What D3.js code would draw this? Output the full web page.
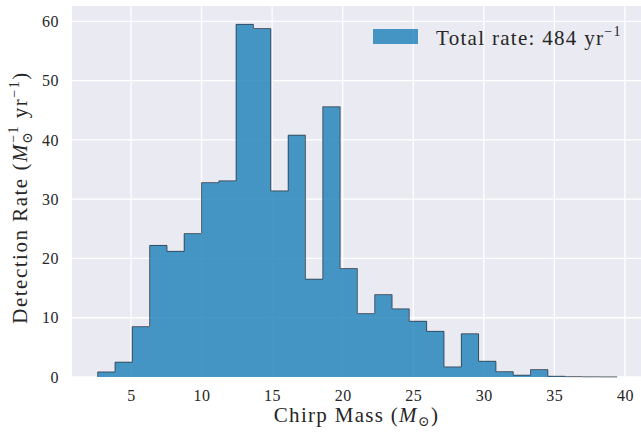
<!DOCTYPE html>
<html>
<head>
<meta charset="utf-8">
<script src="https://cdn.jsdelivr.net/npm/d3@7"></script>
<style>
  body { margin: 0; background: #fff; }
  svg text { font-family: "Liberation Serif", "DejaVu Serif", serif; fill: #262626; }
</style>
</head>
<body>
<svg id="chart" width="641" height="432"></svg>
<script>
// histogram bin edges (chirp mass, M_sun)
const binEdges = [2.64, 3.87, 5.09, 6.32, 7.55, 8.77, 10.00, 11.23, 12.45, 13.68, 14.91,
	16.14, 17.36, 18.59, 19.82, 21.04, 22.27, 23.50, 24.72, 25.95, 27.18,
	28.41, 29.63, 30.86, 32.09, 33.31, 34.54, 35.77, 36.99, 38.22, 39.45];
// detection rate per bin
const rates = [0.85, 2.5, 8.5, 22.2, 21.2, 24.2, 32.8, 33.1, 59.5, 58.8,
	31.4, 40.8, 16.5, 45.6, 18.3, 10.7, 13.9, 11.5, 9.4, 7.7,
	1.7, 7.3, 2.65, 0.9, 0.3, 1.25, 0.12, 0.06, 0.03, 0.02];
const xTicks = [5, 10, 15, 20, 25, 30, 35, 40];
const yTicks = [0, 10, 20, 30, 40, 50, 60];
const legendLabel = "Total rate: 484 yr";

const svg = d3.select("#chart");
const plot = { left: 72, top: 6, right: 641, bottom: 377 };

const x = d3.scaleLinear().domain([0.82, 41.14]).range([plot.left, plot.right]);
const y = d3.scaleLinear().domain([0, 62.6]).range([plot.bottom, plot.top]);

const barColor = "#1a7eb8";

// background
svg.append("rect")
	.attr("x", plot.left).attr("y", plot.top)
	.attr("width", plot.right - plot.left).attr("height", plot.bottom - plot.top)
	.attr("fill", "#eaeaf2");

// grid
let grid = svg.append("g");
grid.selectAll("line.gx").data(xTicks).join("line")
	.attr("x1", d => x(d)).attr("x2", d => x(d))
	.attr("y1", plot.top).attr("y2", plot.bottom)
	.attr("stroke", "#fff").attr("stroke-width", 1.3);
grid.selectAll("line.gy").data(yTicks).join("line")
	.attr("x1", plot.left).attr("x2", plot.right)
	.attr("y1", d => y(d)).attr("y2", d => y(d))
	.attr("stroke", "#fff").attr("stroke-width", 1.3);

// bars
const bins = rates.map((r, i) => ({ x0: binEdges[i], x1: binEdges[i + 1], v: r }));
svg.append("g").selectAll("rect").data(bins).join("rect")
	.attr("x", d => x(d.x0))
	.attr("y", d => y(d.v))
	.attr("width", d => x(d.x1) - x(d.x0))
	.attr("height", d => y(0) - y(d.v))
	.attr("fill", barColor)
	.attr("fill-opacity", 0.8)
	.attr("shape-rendering", "crispEdges");

// step outline
let pts = [[x(binEdges[0]), y(0)]];
bins.forEach(d => {
	pts.push([x(d.x0), y(d.v)]);
	pts.push([x(d.x1), y(d.v)]);
});
svg.append("path")
	.attr("d", d3.line()(pts))
	.attr("fill", "none")
	.attr("stroke", "#2e3b47")
	.attr("stroke-opacity", 0.8)
	.attr("stroke-width", 1);

// axes (labels only, seaborn style)
const xAxis = d3.axisBottom(x).tickValues(xTicks).tickSize(0).tickPadding(13);
const gx = svg.append("g").attr("transform", `translate(0,${plot.bottom})`).call(xAxis);
gx.select(".domain").remove();
gx.selectAll("text").attr("font-size", 16).attr("font-family", null).attr("letter-spacing", 0.5);

const yAxis = d3.axisLeft(y).tickValues(yTicks).tickSize(0).tickPadding(13);
const gy = svg.append("g").attr("transform", `translate(${plot.left},0)`).call(yAxis);
gy.select(".domain").remove();
gy.selectAll("text").attr("font-size", 16).attr("font-family", null).attr("letter-spacing", 0.5);

// x label
let xl = svg.append("text")
	.attr("x", (plot.left + plot.right) / 2).attr("y", 422)
	.attr("text-anchor", "middle").attr("font-size", 21).attr("letter-spacing", 1.3);
xl.append("tspan").text("Chirp Mass (");
xl.append("tspan").attr("font-style", "italic").text("M");
xl.append("tspan").attr("font-size", 14).attr("dy", 4).text("⊙");
xl.append("tspan").attr("dy", -4).text(")");

// y label
let yl = svg.append("text")
	.attr("transform", `translate(27,${(plot.top + plot.bottom) / 2 + 6}) rotate(-90)`)
	.attr("text-anchor", "middle").attr("font-size", 21).attr("letter-spacing", 1.5);
yl.append("tspan").text("Detection Rate (");
yl.append("tspan").attr("font-style", "italic").text("M");
yl.append("tspan").attr("font-size", 14).attr("dy", 5).attr("dx", -1).text("⊙");
yl.append("tspan").attr("font-size", 14).attr("dy", -14).attr("dx", -12).text("−1");
yl.append("tspan").attr("dy", 9).text(" yr");
yl.append("tspan").attr("font-size", 14).attr("dy", -8).text("−1");
yl.append("tspan").attr("dy", 8).text(")");

// legend
svg.append("rect")
	.attr("x", 373).attr("y", 29).attr("width", 45).attr("height", 15)
	.attr("fill", barColor).attr("fill-opacity", 0.8);
let lg = svg.append("text").attr("x", 436).attr("y", 45)
	.attr("font-size", 21).attr("letter-spacing", 1.3);
lg.append("tspan").text(legendLabel);
lg.append("tspan").attr("font-size", 14).attr("dy", -9).text("−1");
</script>
</body>
</html>
